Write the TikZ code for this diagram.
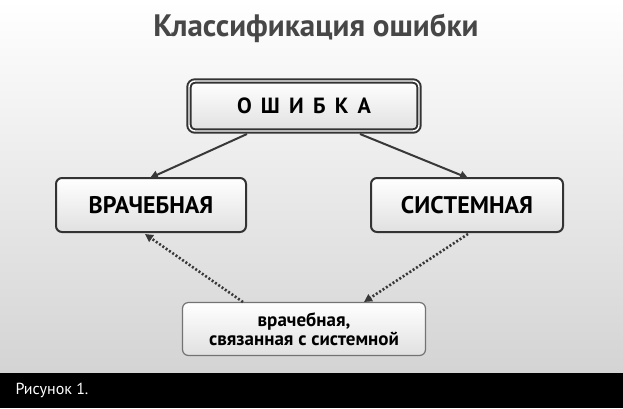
\documentclass[tikz,border=0pt]{standalone}
\usepackage{fontspec}
\setmainfont{PT Sans}
\usetikzlibrary{arrows.meta}
\begin{document}
\begin{tikzpicture}[x=1pt,y=-1pt,
  box/.style={draw=black!80,line width=2pt,rounded corners=6pt,top color=white,bottom color=black!12,inner sep=0pt,font=\bfseries},
  conn/.style={draw=black!78,line width=2pt,-{Triangle[length=8pt,width=8pt]}},
  dconn/.style={conn,dotted,line width=2.6pt}]
\useasboundingbox (0,0) rectangle (623,408);
\shade[top color=white,bottom color=black!17] (0,0) rectangle (623,373);
\fill[black] (0,373) rectangle (623,408);
\node[white,anchor=west,font=\fontsize{16}{18}\selectfont] (cap) at (12,390) {Рисунок 1.};
\node[text=black!72,font=\bfseries\fontsize{31}{34}\selectfont] (title) at (316,28) {Классификация ошибки};
\node[box,double=white,double distance=1.4pt,minimum width=230pt,minimum height=50pt,font=\bfseries\fontsize{22}{24}\selectfont] (err) at (304,106) {О\,\ Ш\,\ И\,\ Б\,\ К\,\ А};
\node[box,minimum width=190pt,minimum height=54pt,font=\bfseries\fontsize{24}{26}\selectfont] (doc) at (151,205) {ВРАЧЕБНАЯ};
\node[box,minimum width=192pt,minimum height=54pt,font=\bfseries\fontsize{24}{26}\selectfont] (sys) at (467,205) {СИСТЕМНАЯ};
\node[box,draw=black!55,line width=1.2pt,minimum width=243pt,minimum height=53pt,align=center,font=\bfseries\fontsize{19}{19}\selectfont] (both) at (304,329) {врачебная,\\связанная с системной};
\draw[conn] (247,134) -- (150,178);
\draw[conn] (360,134) -- (468,178);
\draw[dconn] (243,302) -- (145,234);
\draw[dconn] (468,234) -- (364,302);
\end{tikzpicture}
\end{document}
